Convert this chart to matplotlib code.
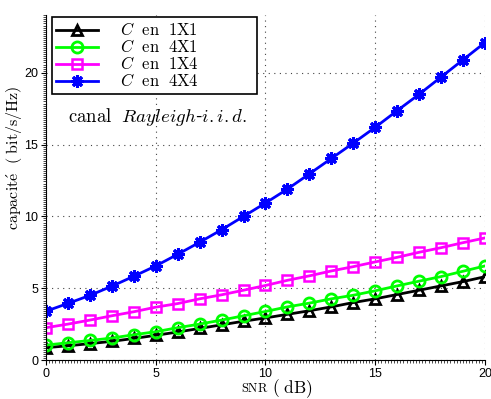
import numpy as np
import matplotlib
matplotlib.use('Agg')
import matplotlib.pyplot as plt
from matplotlib.ticker import MultipleLocator

plt.rcParams['mathtext.fontset'] = 'cm'
plt.rcParams['font.family'] = ['Liberation Sans', 'DejaVu Sans']

# données
snr_db = np.arange(0, 21)
cap_1x1 = [0.86, 0.99, 1.14, 1.30, 1.50, 1.72, 1.95, 2.20, 2.45, 2.70, 2.93,
           3.18, 3.43, 3.70, 4.00, 4.26, 4.56, 4.86, 5.16, 5.46, 5.80]
cap_4x1 = [1.04, 1.20, 1.36, 1.53, 1.76, 1.97, 2.25, 2.50, 2.78, 3.08, 3.38,
           3.70, 3.96, 4.26, 4.51, 4.82, 5.16, 5.49, 5.81, 6.18, 6.55]
cap_1x4 = [2.25, 2.50, 2.78, 3.08, 3.36, 3.68, 3.93, 4.26, 4.54, 4.86, 5.19,
           5.55, 5.86, 6.20, 6.50, 6.83, 7.15, 7.50, 7.82, 8.17, 8.50]
cap_4x4 = [3.40, 3.94, 4.50, 5.14, 5.83, 6.55, 7.36, 8.20, 9.07, 10.0, 10.93,
           11.9, 12.96, 14.03, 15.1, 16.2, 17.36, 18.5, 19.7, 20.9, 22.1]
labels = [r'$C\ \ \mathrm{en}\ \ \mathrm{1X1}$',
          r'$C\ \ \mathrm{en}\ \ \mathrm{4X1}$',
          r'$C\ \ \mathrm{en}\ \ \mathrm{1X4}$',
          r'$C\ \ \mathrm{en}\ \ \mathrm{4X4}$']

fig = plt.figure(figsize=(4.91, 3.99), dpi=100)
ax = fig.add_axes([0.0937, 0.0977, 0.894, 0.864])

ax.plot(snr_db, cap_1x1, '-', color='black', lw=2, marker='^', ms=7,
        mfc='none', mew=2, label=labels[0])
ax.plot(snr_db, cap_4x1, '-', color='#00ff00', lw=2, marker='o', ms=8,
        mfc='none', mew=2, label=labels[1])
ax.plot(snr_db, cap_1x4, '-', color='#ff00ff', lw=2, marker='s', ms=7,
        mfc='none', mew=1.8, label=labels[2])
ax.plot(snr_db, cap_4x4, '-', color='#0000ff', lw=2, marker=(8, 2, 0), ms=9,
        mew=2.2, label=labels[3])

ax.set_xlim(0, 20)
ax.set_ylim(0, 24)
ax.xaxis.set_major_locator(MultipleLocator(5))
ax.yaxis.set_major_locator(MultipleLocator(5))
ax.xaxis.set_minor_locator(MultipleLocator(1 / 7))
ax.yaxis.set_minor_locator(MultipleLocator(1 / 7))
ax.tick_params(which='major', direction='out', length=3.5, width=0.8,
               labelsize=9, pad=2)
ax.tick_params(which='minor', direction='out', length=2, width=0.5)
ax.spines['top'].set_visible(False)
ax.spines['right'].set_visible(False)
ax.grid(True, which='major', linestyle=(0, (1, 4)), color='#444444', lw=0.8)

# étiquettes des axes
fig.text(14 / 491, (399 - 158) / 399, r'$\mathrm{capacit\acute{e}\ \ (\ bit/s/Hz)}$',
         fontsize=11.5, rotation=90, ha='center', va='center')
fig.text(269 / 491, (399 - 389) / 399, r'$\mathrm{SNR}$', fontsize=9,
         ha='right', va='center')
fig.text(272 / 491, (399 - 389) / 399, r'$\mathrm{(\ dB)}$', fontsize=12.5,
         ha='left', va='center')

ax.text(1.0, 16.9, r'$\mathrm{canal}\ \ \mathit{Rayleigh}$-$\mathit{i.i.d.}$',
        fontsize=13.5, va='center', ha='left')

leg_w = (257 - 52) / 439
leg_h = (97 - 17) / 345
leg = ax.legend(loc='upper left', mode='expand',
                bbox_to_anchor=(0.0137, 1.0 - 17 / 345 + 15 / 345 - leg_h, leg_w, leg_h),
                fontsize=12, frameon=True, fancybox=False, edgecolor='black',
                framealpha=1, handlelength=2.5, borderpad=0.25, labelspacing=0.0,
                handletextpad=1.3, borderaxespad=0.0)
leg.get_frame().set_linewidth(1.2)

fig.savefig('out.png', dpi=100)
